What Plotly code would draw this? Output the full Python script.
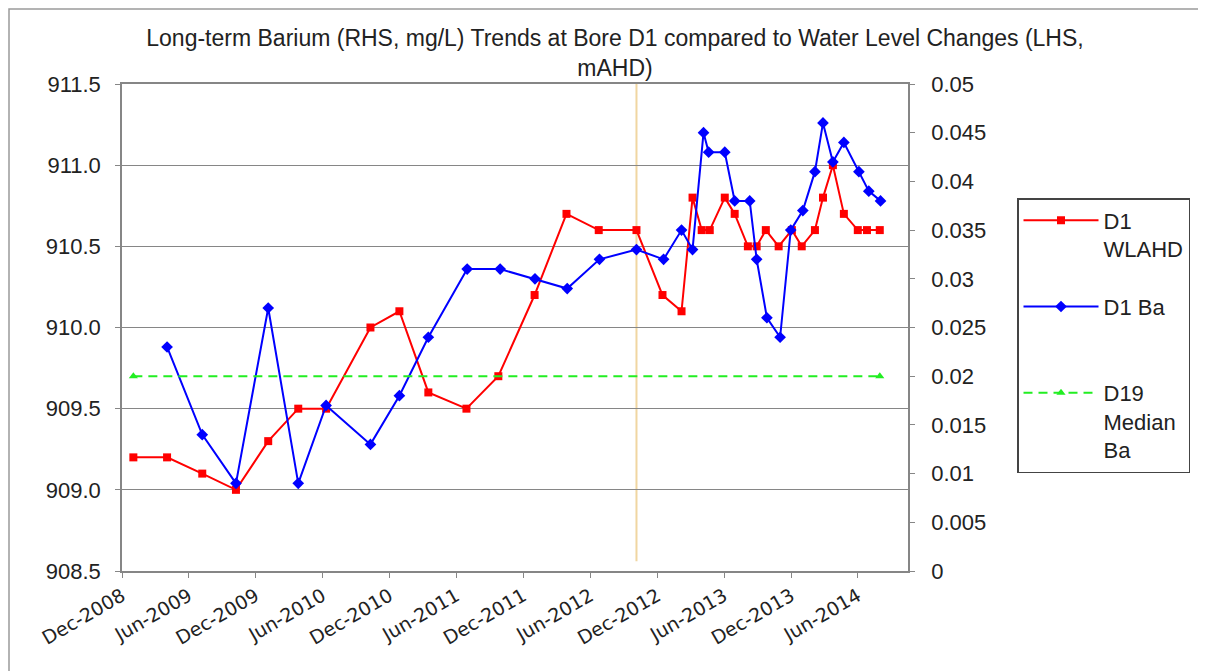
import plotly.graph_objects as go

# ---------------- data ----------------
wl_dates = ["2009-01-01", "2009-04-03", "2009-07-08", "2009-10-08", "2010-01-04", "2010-03-27",
            "2010-06-11", "2010-10-10", "2010-12-28", "2011-03-17", "2011-06-29", "2011-09-24",
            "2012-01-01", "2012-03-28", "2012-06-24", "2012-10-05", "2012-12-15", "2013-02-05",
            "2013-03-07", "2013-04-01", "2013-04-23", "2013-06-03", "2013-06-30", "2013-08-05",
            "2013-08-29", "2013-09-23", "2013-10-28", "2013-12-03", "2013-12-30", "2014-02-04",
            "2014-02-26", "2014-03-25", "2014-04-24", "2014-06-01", "2014-06-26", "2014-07-31"]
wl_values = [909.2, 909.2, 909.1, 909.0, 909.3, 909.5,
             909.5, 910.0, 910.1, 909.6, 909.5, 909.7,
             910.2, 910.7, 910.6, 910.6, 910.2, 910.1,
             910.8, 910.6, 910.6, 910.8, 910.7, 910.5,
             910.5, 910.6, 910.5, 910.6, 910.5, 910.6,
             910.8, 911.0, 910.7, 910.6, 910.6, 910.6]

ba_dates = ["2009-04-03", "2009-07-08", "2009-10-08", "2010-01-04", "2010-03-27", "2010-06-11",
            "2010-10-10", "2010-12-28", "2011-03-17", "2011-07-01", "2011-09-29", "2012-01-02",
            "2012-03-30", "2012-06-26", "2012-10-05", "2012-12-18", "2013-02-05", "2013-03-07",
            "2013-04-06", "2013-04-20", "2013-06-03", "2013-06-30", "2013-08-10", "2013-08-29",
            "2013-09-26", "2013-11-01", "2013-11-30", "2014-01-02", "2014-02-04", "2014-02-26",
            "2014-03-25", "2014-04-24", "2014-06-04", "2014-07-01", "2014-08-02"]
ba_values = [0.023, 0.014, 0.009, 0.027, 0.009, 0.017,
             0.013, 0.018, 0.024, 0.031, 0.031, 0.030,
             0.029, 0.032, 0.033, 0.032, 0.035, 0.033,
             0.045, 0.043, 0.043, 0.038, 0.038, 0.032,
             0.026, 0.024, 0.035, 0.037, 0.041, 0.046,
             0.042, 0.044, 0.041, 0.039, 0.038]

median_dates = ["2009-01-01", "2014-07-31"]
median_values = [0.02, 0.02]

marker_date = "2012-10-05"

x_tick_dates = ["2008-12-01", "2009-06-01", "2009-12-01", "2010-06-01", "2010-12-01", "2011-06-01",
                "2011-12-01", "2012-06-01", "2012-12-01", "2013-06-01", "2013-12-01", "2014-06-01"]
x_tick_labels = ["Dec-2008", "Jun-2009", "Dec-2009", "Jun-2010", "Dec-2010", "Jun-2011",
                 "Dec-2011", "Jun-2012", "Dec-2012", "Jun-2013", "Dec-2013", "Jun-2014"]
y_left_ticks = [908.5, 909.0, 909.5, 910.0, 910.5, 911.0, 911.5]
y_right_ticks = [0, 0.005, 0.01, 0.015, 0.02, 0.025, 0.03, 0.035, 0.04, 0.045, 0.05]
y_right_labels = ["0", "0.005", "0.01", "0.015", "0.02", "0.025", "0.03", "0.035", "0.04", "0.045", "0.05"]

title_text = "Long-term Barium (RHS, mg/L) Trends at Bore D1 compared to Water Level Changes (LHS,<br>mAHD)"

# ---------------- figure ----------------
FONT = "Liberation Sans, Arial, sans-serif"
TXT = "#222222"
AX = "#868686"

# page body has an 8px margin, so the figure is placed at (8, 8)
W, H = 1198, 663
L, R, T, B = 114, 298, 76, 100
PW, PH = W - L - R, H - T - B

fig = go.Figure()

fig.add_trace(go.Scatter(
    x=wl_dates, y=wl_values, name="D1<br>WLAHD", mode="lines+markers",
    line=dict(color="#ff0000", width=2),
    marker=dict(symbol="square", size=8, color="#ff0000"),
    yaxis="y", legendgroup="a"))

fig.add_trace(go.Scatter(
    x=ba_dates, y=ba_values, name="D1 Ba<br>&nbsp;", mode="lines+markers",
    line=dict(color="#0000ff", width=2),
    marker=dict(symbol="diamond", size=9, color="#0000ff"),
    yaxis="y2", legendgroup="b"))

fig.add_trace(go.Scatter(
    x=median_dates, y=median_values, name="D19<br>Median<br>Ba", mode="lines+markers",
    line=dict(color="#22ee22", width=2, dash="9px,6px"),
    marker=dict(symbol="triangle-up", size=8, color="#22ee22"),
    yaxis="y2", legendgroup="c"))

fig.add_shape(type="line", xref="x", yref="paper", x0=marker_date, x1=marker_date,
              y0=0.02, y1=1, line=dict(color="rgba(235,200,130,0.75)", width=2), layer="below")

# outer chart frame
fig.add_shape(type="rect", xref="paper", yref="paper",
              x0=(1 - L) / PW, x1=(1194 - L) / PW,
              y0=-(B + 10) / PH, y1=1 + (T - 1) / PH,
              line=dict(color="#9a9a9a", width=1.5))

fig.update_layout(
    width=W, height=H,
    margin=dict(l=L, r=R, t=T, b=B, autoexpand=False),
    paper_bgcolor="white", plot_bgcolor="white",
    font=dict(family=FONT, color=TXT),
    title=dict(text=title_text, x=(615 - 8) / W, xref="container", y=1 - 38 / H, yref="container",
               xanchor="center", yanchor="top",
               font=dict(family=FONT, size=23, color=TXT)),
    showlegend=True,
    legend=dict(x=(1017 - 8 - L) / PW, y=1 - (198 - 8 - T) / PH, xanchor="left", yanchor="top",
                bordercolor="#444444", borderwidth=1.5, bgcolor="white",
                font=dict(family=FONT, size=22, color=TXT),
                tracegroupgap=26, itemwidth=75, valign="top",
                traceorder="grouped"),
    xaxis=dict(type="date", range=["2008-12-01", "2014-10-16"],
               tickvals=x_tick_dates, ticktext=x_tick_labels, tickangle=-30,
               tickfont=dict(family="DejaVu Sans, Verdana, sans-serif", size=19, color=TXT),
               showgrid=False, showline=True, linecolor=AX, linewidth=1.5, mirror=True,
               ticks="outside", ticklen=5, tickcolor=AX, zeroline=False),
    yaxis=dict(range=[908.5, 911.5], tickvals=y_left_ticks, tickformat=".1f",
               tickfont=dict(family=FONT, size=22, color=TXT), ticklabelstandoff=10,
               showgrid=True, gridcolor=AX, gridwidth=1.2,
               showline=True, linecolor=AX, linewidth=1.5,
               ticks="outside", ticklen=5, tickcolor=AX, zeroline=False),
    yaxis2=dict(range=[0, 0.05], overlaying="y", side="right",
                tickvals=y_right_ticks, ticktext=y_right_labels,
                tickfont=dict(family=FONT, size=22, color=TXT), ticklabelstandoff=12,
                showgrid=False, showline=True, linecolor=AX, linewidth=1.5,
                ticks="outside", ticklen=5, tickcolor=AX, zeroline=False),
)

fig.write_html("out.html")
